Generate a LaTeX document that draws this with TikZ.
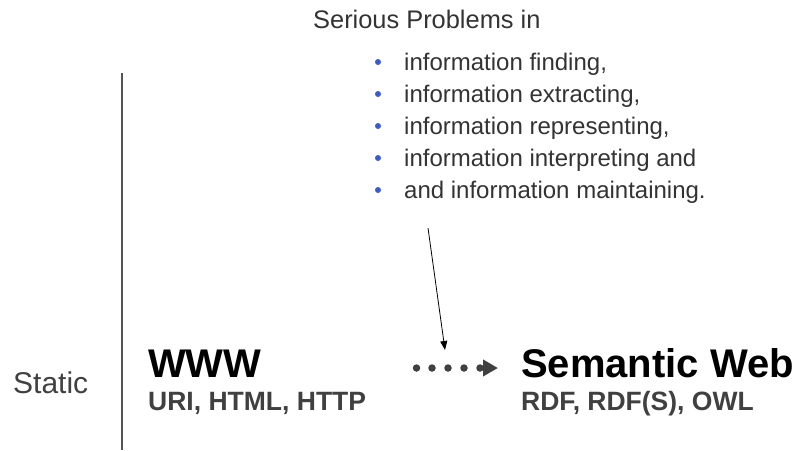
\documentclass[tikz,border=0pt]{standalone}
\usepackage{fontspec}
\setmainfont{Liberation Sans}
\usetikzlibrary{arrows.meta}
\definecolor{txtgray}{HTML}{333333}
\definecolor{subgray}{HTML}{404040}
\definecolor{bulletblue}{HTML}{3F5BBF}
\definecolor{rulegray}{HTML}{555555}
\tikzset{
  plain/.style={anchor=base west, inner sep=0pt, text=txtgray, font=\fontsize{24}{28}\selectfont},
  head/.style={anchor=base west, inner sep=0pt, text=black, font=\fontsize{40}{44}\selectfont\bfseries},
  sub/.style={anchor=base west, inner sep=0pt, text=subgray, font=\fontsize{26.5}{30}\selectfont\bfseries},
  bulletdot/.style={circle, fill=bulletblue, inner sep=0pt, minimum size=6pt},
  flowdot/.style={circle, fill=subgray, inner sep=0pt, minimum size=7.5pt},
}
\begin{document}
\begin{tikzpicture}[x=1pt,y=-1pt]
\useasboundingbox (0,0) rectangle (797,450);
% title and bullet list
\node[plain, font=\fontsize{25.4}{29}\selectfont] (title) at (313,28) {Serious Problems in};
\foreach \i/\t in {0/{information finding,},1/{information extracting,},2/{information representing,},3/{information interpreting and},4/{and information maintaining.}}{
  \node[plain] (item\i) at (404,70+32*\i) {\t};
  \node[bulletdot] (b\i) at (378,62+32*\i) {};
}
% timeline rule and label
\coordinate (rtop) at (122,73);
\coordinate (rbot) at (122,450);
\draw[rulegray, line width=2pt] (rtop) -- (rbot);
\node[plain, text=subgray, font=\fontsize{30}{34}\selectfont] (static) at (13,393) {Static};
% the two webs
\node[head] (www) at (148,377) {WWW};
\node[sub] (wwwsub) at (148,410) {URI, HTML, HTTP};
\node[head] (sw) at (521,377) {Semantic Web};
\node[sub] (swsub) at (521,410) {RDF, RDF(S), OWL};
% dotted transition arrow
\foreach \k/\x in {0/416.5,1/432,2/448,3/464,4/480}{
  \node[flowdot] (d\k) at (\x,368) {};
}
\coordinate (tip) at (498,368);
\draw[subgray, line width=4pt, -{Triangle[length=15pt,width=16pt]}] (d4.center) -- (tip);
% problems pointing at the transition
\coordinate (pstart) at (428,228);
\coordinate (pend) at (445,350);
\draw[black, line width=0.8pt, -{Triangle[length=9pt,width=7pt]}] (pstart) -- (pend);
\end{tikzpicture}
\end{document}
